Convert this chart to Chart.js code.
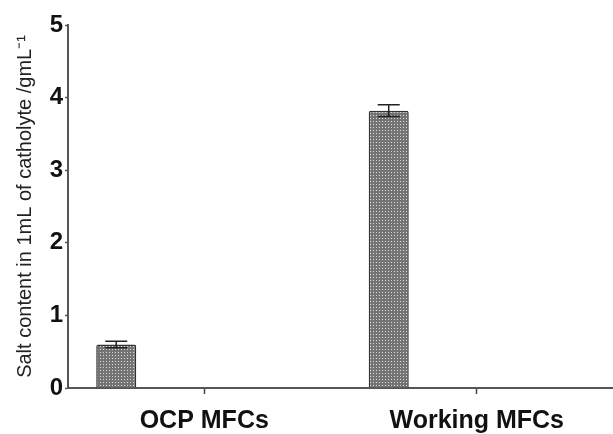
<!DOCTYPE html>
<html>
<head>
<meta charset="utf-8">
<script src="https://cdn.jsdelivr.net/npm/chart.js@4/dist/chart.umd.min.js"></script>
<style>
  body { margin: 0; background: #fff; }
  canvas { display: block; }
</style>
</head>
<body>
<canvas id="chart" width="613" height="434"></canvas>
<script>
const CATEGORIES = ['OCP MFCs', 'Working MFCs'];
const SALT_VALUES = [0.6, 3.82];
const SALT_ERRORS = [0.045, 0.08];
const Y_TICKS = [0, 1, 2, 3, 4, 5];

// --- Dotted fill like the original print ---
function makePattern() {
  const c = document.createElement('canvas');
  c.width = 3;
  c.height = 3;
  const g = c.getContext('2d');
  g.fillStyle = '#747474';
  g.fillRect(0, 0, 3, 3);
  g.fillStyle = '#dcdcdc';
  g.fillRect(1, 1, 1, 1);
  return g.createPattern(c, 'repeat');
}

// --- Error bars drawn from the y scale ---
const errorBars = {
  id: 'errorBars',
  afterDatasetsDraw(chart) {
    const meta = chart.getDatasetMeta(0);
    const y = chart.scales.y;
    const ctx = chart.ctx;
    ctx.save();
    ctx.strokeStyle = '#222';
    ctx.lineWidth = 1.5;
    meta.data.forEach((bar, i) => {
      const v = SALT_VALUES[i];
      const e = SALT_ERRORS[i];
      const top = y.getPixelForValue(v + e);
      const bot = y.getPixelForValue(v - e);
      const cap = 11;
      ctx.beginPath();
      ctx.moveTo(bar.x, top);
      ctx.lineTo(bar.x, bot);
      ctx.moveTo(bar.x - cap, top);
      ctx.lineTo(bar.x + cap, top);
      ctx.moveTo(bar.x - cap, bot);
      ctx.lineTo(bar.x + cap, bot);
      ctx.stroke();
    });
    ctx.restore();
  },
};

new Chart(document.getElementById('chart'), {
  type: 'bar',
  data: {
    labels: CATEGORIES,
    datasets: [
      {
        label: 'Salt content',
        data: SALT_VALUES,
        backgroundColor: makePattern(),
        borderColor: '#333',
        borderWidth: 1.5,
        borderRadius: 2,
        borderSkipped: 'bottom',
      },
      // empty slots keep the bars on the left of each group
      { label: '', data: [null, null] },
      { label: '', data: [null, null] },
    ],
  },
  options: {
    responsive: false,
    animation: false,
    categoryPercentage: 0.969,
    barPercentage: 0.455,
    layout: { padding: { top: 25, right: 0, left: 0, bottom: 0 } },
    plugins: {
      legend: { display: false },
      tooltip: { enabled: false },
    },
    scales: {
      x: {
        offset: true,
        grid: {
          offset: false,
          drawOnChartArea: false,
          tickLength: 6,
          tickColor: '#444',
          tickWidth: 1.5,
        },
        border: { color: '#555', width: 2 },
        ticks: {
          color: '#111',
          padding: 12,
          font: { family: 'Liberation Sans, Arial, sans-serif', size: 25, weight: 'bold' },
        },
        afterFit(scale) { scale.height = 46; },
      },
      y: {
        min: 0,
        max: 5,
        afterBuildTicks(scale) { scale.ticks = Y_TICKS.map(v => ({ value: v })); },
        grid: {
          drawOnChartArea: false,
          tickLength: 3,
          tickColor: '#555',
          tickWidth: 1.5,
        },
        border: { color: '#555', width: 2 },
        ticks: {
          color: '#111',
          padding: 2,
          font: { family: 'Liberation Sans, Arial, sans-serif', size: 24, weight: 'bold' },
        },
        title: {
          display: true,
          text: 'Salt content in 1mL of catholyte /gmL\u207B\u00B9',
          color: '#222',
          padding: { top: 13, bottom: 0 },
          font: { family: 'Liberation Sans, Arial, sans-serif', size: 20 },
        },
        afterFit(scale) { scale.width = 68; },
      },
    },
  },
  plugins: [errorBars],
});
</script>
</body>
</html>
